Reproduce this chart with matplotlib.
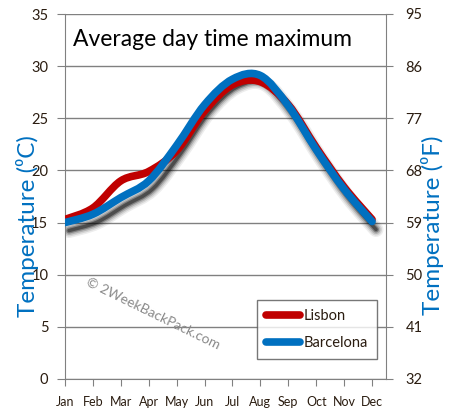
import numpy as np
import matplotlib
matplotlib.use('Agg')
import matplotlib.pyplot as plt
import matplotlib.transforms as mtransforms
from matplotlib.path import Path
from matplotlib.patches import PathPatch
from matplotlib.lines import Line2D

# monthly average day time maximum (deg C)
months = ['Jan', 'Feb', 'Mar', 'Apr', 'May', 'Jun',
          'Jul', 'Aug', 'Sep', 'Oct', 'Nov', 'Dec']
lisbon = [15.3, 16.4, 19.0, 19.9, 21.9, 25.7, 28.2, 28.5, 26.3, 22.2, 18.4, 15.3]
barcelona = [15.0, 15.8, 17.4, 19.0, 22.4, 26.3, 28.75, 29.1, 26.2, 22.0, 18.2, 15.1]

c_ticks = [0, 5, 10, 15, 20, 25, 30, 35]
f_ticks = [32, 41, 50, 59, 68, 77, 86, 95]

RED = '#c00000'
BLUE = '#0070c0'
GRID = '#808080'
TXT = '#2a1c10'

plt.rcParams['font.family'] = ['Lato', 'DejaVu Sans']


def smooth_path(y):
    # catmull-rom style cubic bezier through the monthly points
    x = np.arange(len(y), dtype=float)
    p = np.column_stack([x, np.asarray(y, dtype=float)])
    verts = [p[0]]
    codes = [Path.MOVETO]
    n = len(p)
    for i in range(n - 1):
        p0 = p[max(i - 1, 0)]
        p1 = p[i]
        p2 = p[i + 1]
        p3 = p[min(i + 2, n - 1)]
        c1 = p1 + (p2 - p0) / 6.0
        c2 = p2 - (p3 - p1) / 6.0
        verts += [c1, c2, p2]
        codes += [Path.CURVE4] * 3
    return Path(verts, codes)


fig = plt.figure(figsize=(4.5, 4.2), dpi=100)
ax = fig.add_axes([65 / 450, 1 - 379 / 420, 321 / 450, 365 / 420])

ax.set_xlim(0, 11.5)
ax.set_ylim(0, 35)
ax.set_yticks(c_ticks)
ax.set_xticks(range(12))
ax.set_xticklabels(months)
ax.grid(axis='y', color=GRID, lw=1)
ax.set_axisbelow(True)
for s in ['top', 'right']:
    ax.spines[s].set_visible(False)
for s in ['left', 'bottom']:
    ax.spines[s].set_color(GRID)
ax.tick_params(axis='y', length=6, color=GRID, pad=6, labelsize=10.5, labelcolor=TXT)
ax.tick_params(axis='x', length=5, color=GRID, pad=7, labelsize=9, labelcolor=TXT)
ax.set_ylabel('Temperature (\u2070C)', color=BLUE, fontsize=17.5)
ax.yaxis.set_label_coords(-0.08, 0.42)

# blurred drop shadow under the lines
shadow_off = mtransforms.ScaledTranslation(4 / 100, -8 / 100, fig.dpi_scale_trans)
for w, a in [(15, 0.07), (12, 0.1), (9, 0.16), (6, 0.28), (3.5, 0.4)]:
    ax.add_patch(PathPatch(smooth_path(barcelona), fill=False, edgecolor='black',
                           lw=w * 0.72, alpha=a, capstyle='round', joinstyle='round',
                           transform=ax.transData + shadow_off, zorder=2))

ax.add_patch(PathPatch(smooth_path(lisbon), fill=False, edgecolor=RED, lw=5.5,
                       capstyle='round', joinstyle='round', zorder=3))
ax.add_patch(PathPatch(smooth_path(barcelona), fill=False, edgecolor=BLUE, lw=5.5,
                       capstyle='round', joinstyle='round', zorder=4))

ax2 = ax.twinx()
ax2.set_ylim(32, 95)
ax2.set_yticks(f_ticks)
for s in ['top', 'left', 'bottom']:
    ax2.spines[s].set_visible(False)
ax2.spines['right'].set_color(GRID)
ax2.tick_params(axis='y', length=5, color=GRID, pad=9, labelsize=10.5, labelcolor=TXT)
ax2.set_ylabel('Temperature (\u2070F)', color=BLUE, fontsize=17.5)
ax2.yaxis.set_label_coords(1.11, 0.42)

ax.text(0.025, 0.96, 'Average day time maximum', transform=ax.transAxes,
        fontsize=16.5, color='black', va='top', ha='left')

ax.text(0.275, 0.18, '\u00a9 2WeekBackPack.com', transform=ax.transAxes,
        fontsize=10, color='#8a8a8a', rotation=-26, ha='center', va='center',
        rotation_mode='anchor')

handles = [Line2D([], [], color=RED, lw=5.5, solid_capstyle='round'),
           Line2D([], [], color=BLUE, lw=5.5, solid_capstyle='round')]
leg = ax2.legend(handles, ['Lisbon', 'Barcelona'], loc='lower right',
                 bbox_to_anchor=(0.972, 0.055), borderaxespad=0, fontsize=10.5,
                 frameon=True, fancybox=False, edgecolor='#555555', handlelength=2.3,
                 handletextpad=0.3, borderpad=0.6, labelspacing=0.9)
leg.get_frame().set_linewidth(1)
for t in leg.get_texts():
    t.set_color(TXT)

fig.savefig('out.png', dpi=100)
